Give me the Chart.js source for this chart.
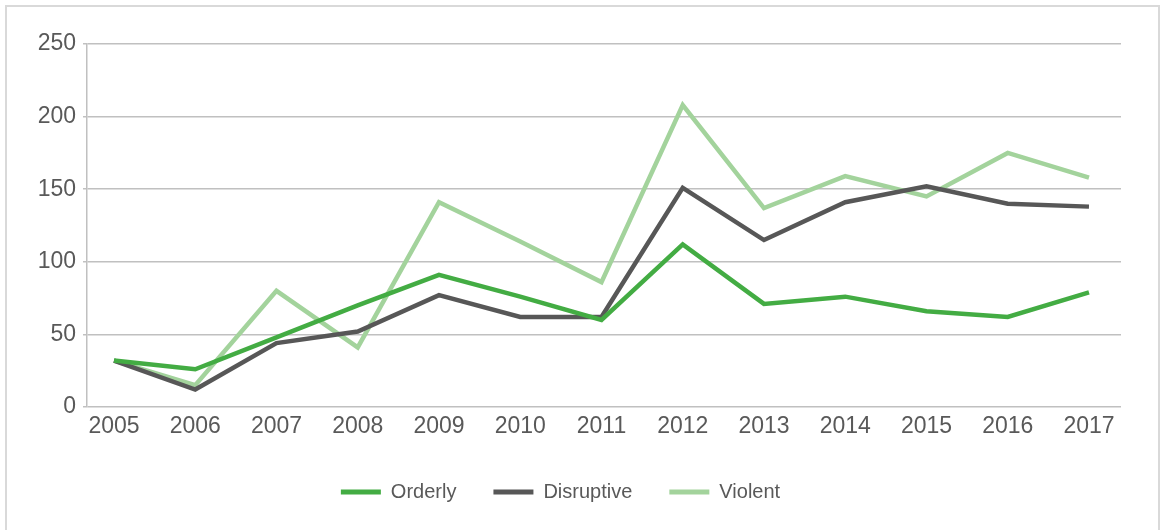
<!DOCTYPE html>
<html>
<head>
<meta charset="utf-8">
<script src="https://cdn.jsdelivr.net/npm/chart.js@4/dist/chart.umd.min.js"></script>
<style>
    html, body { margin: 0; padding: 0; background: #fff; overflow: hidden; }
    #wrap { position: relative; width: 1161px; height: 530px; }
    #frame { position: absolute; left: 5px; top: 5px; width: 1151px; height: 560px; border: 2px solid #d9d9d9; pointer-events: none; }
</style>
</head>
<body>
<div id="wrap">
    <canvas id="chart" width="1161" height="530"></canvas>
    <div id="frame"></div>
</div>
<script>
// ---- data ----
const years = ['2005', '2006', '2007', '2008', '2009', '2010', '2011', '2012', '2013', '2014', '2015', '2016', '2017'];
const orderly = [32, 26, 48, 70, 91, 76, 60, 112, 71, 76, 66, 62, 79];
const disruptive = [32, 12, 44, 52, 77, 62, 62, 151, 115, 141, 152, 140, 138];
const violent = [32, 15, 80, 41, 141, 114, 86, 208, 137, 159, 145, 175, 158];
const yTicks = [0, 50, 100, 150, 200, 250];

const FONT = '"Liberation Sans", Arial, Helvetica, sans-serif';
const TXT = '#595959';

function pts(values) {
    return values.map((v, i) => ({ x: Number(years[i]), y: v }));
}

function series(label, values, color) {
    return {
        label: label,
        data: pts(values),
        borderColor: color,
        backgroundColor: color,
        borderWidth: 4.5,
        pointRadius: 0,
        pointHoverRadius: 0,
        fill: false,
        tension: 0
    };
}

const ctx = document.getElementById('chart');
window.mainChart = new Chart(ctx, {
    type: 'line',
    data: {
        datasets: [
            series('Orderly', orderly, '#43ac43'),
            series('Disruptive', disruptive, '#575757'),
            series('Violent', violent, '#a3d39c')
        ]
    },
    options: {
        responsive: false,
        animation: false,
        layout: { padding: { top: 44, right: 40, bottom: 18, left: 0 } },
        plugins: {
            tooltip: { enabled: false },
            legend: {
                position: 'bottom',
                labels: {
                    boxWidth: 40,
                    boxHeight: 5,
                    padding: 37,
                    color: TXT,
                    font: { family: FONT, size: 20 },
                    generateLabels: (chart) => Chart.defaults.plugins.legend.labels.generateLabels(chart)
                        .map(l => ({ ...l, lineWidth: 0, fillStyle: l.strokeStyle }))
                }
            }
        },
        scales: {
            x: {
                type: 'linear',
                min: 2004.668,
                max: 2017.394,
                afterFit: (s) => { s.height = 38; },
                afterBuildTicks: (s) => { s.ticks = years.map(y => ({ value: Number(y) })); },
                grid: { display: false, drawTicks: false },
                border: { display: false },
                ticks: {
                    padding: 6,
                    color: TXT,
                    font: { family: FONT, size: 23 },
                    callback: (v) => String(v)
                }
            },
            y: {
                min: 0,
                max: 250,
                afterFit: (s) => { s.width = 87; },
                afterBuildTicks: (s) => { s.ticks = yTicks.map(v => ({ value: v })); },
                grid: { color: '#c0c0c0', lineWidth: 1.5, tickLength: 4 },
                border: { display: true, color: '#c0c0c0', width: 1.5 },
                ticks: {
                    padding: 7,
                    color: TXT,
                    font: { family: FONT, size: 23 }
                }
            }
        }
    }
});
</script>
</body>
</html>
